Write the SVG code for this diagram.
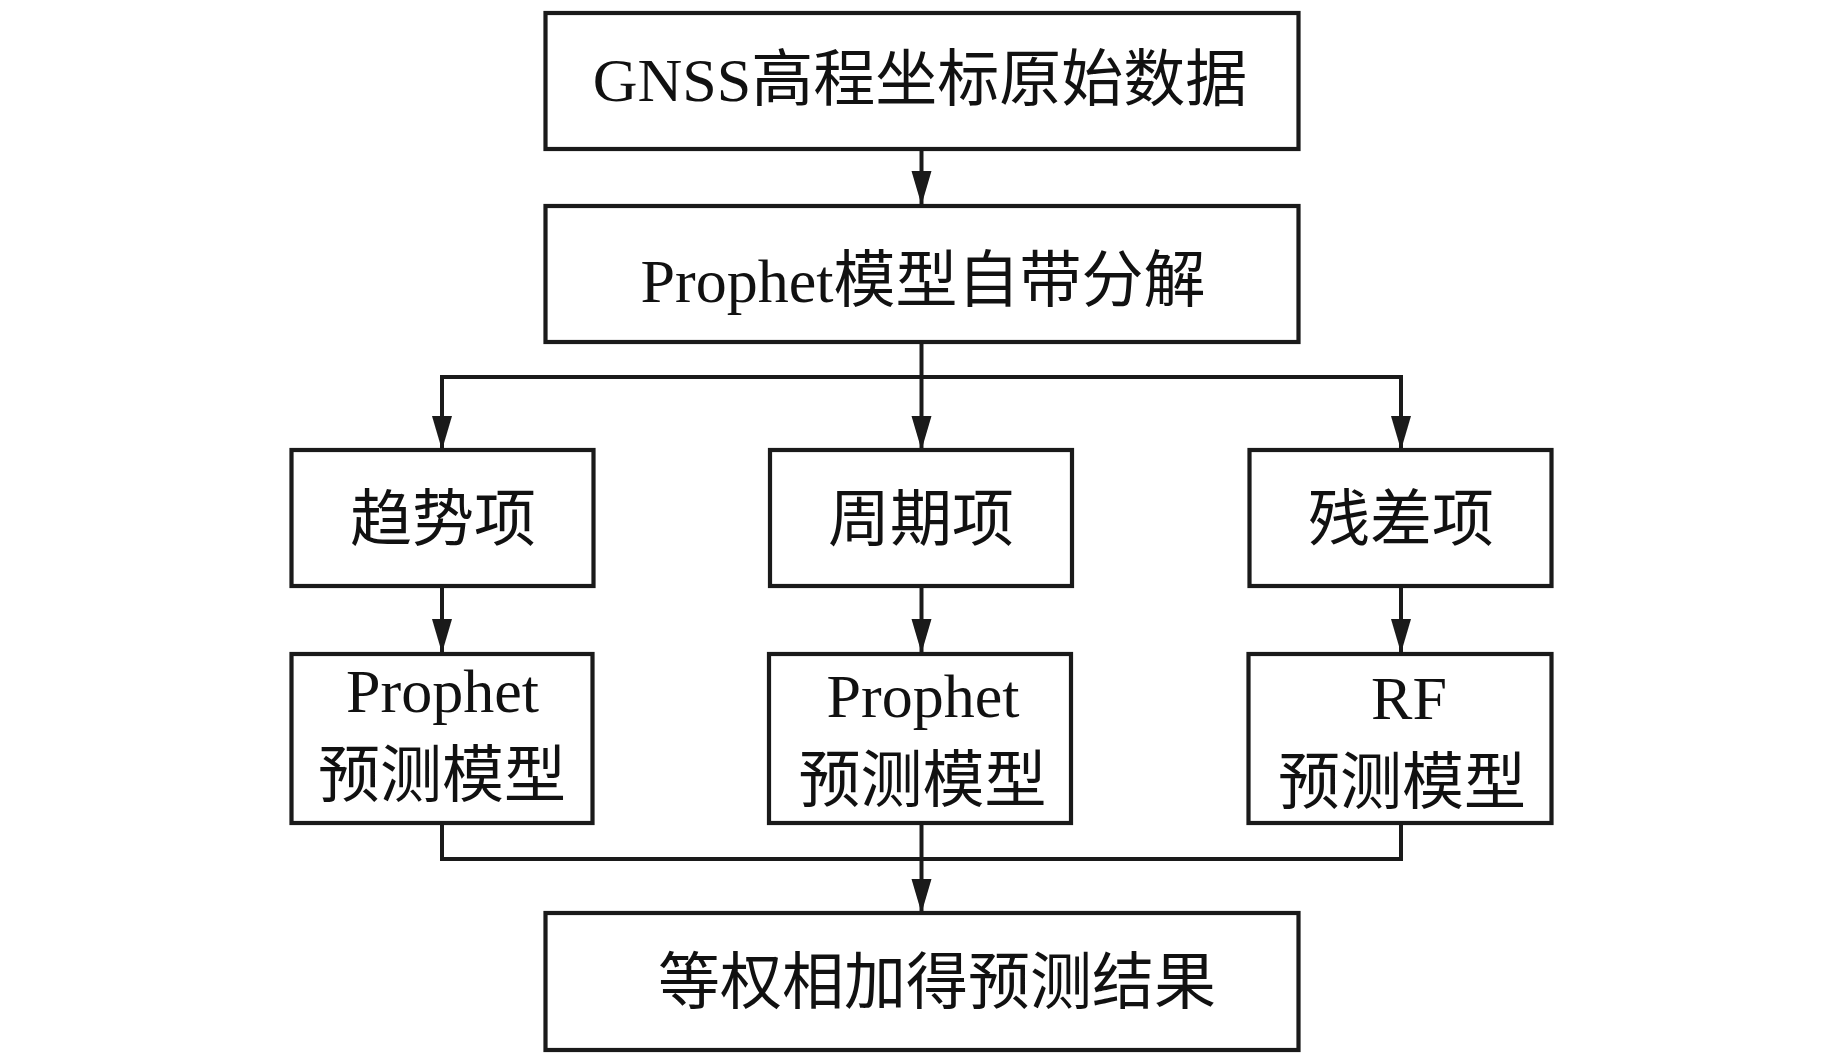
<svg xmlns="http://www.w3.org/2000/svg" width="1843" height="1063" viewBox="0 0 1843 1063">
<style>
.box{fill:#fff;stroke:#1a1a1a;stroke-width:4.2}
.t{font-family:"Liberation Serif","Noto Sans CJK SC",serif;font-size:62px;fill:#111;text-anchor:middle}
.ln{fill:none;stroke:#1a1a1a;stroke-width:4}
</style>
<defs>
<marker id="ah" markerUnits="userSpaceOnUse" markerWidth="36" markerHeight="22" refX="34" refY="10" orient="auto">
<path d="M0,0 L34,10 L0,20 z" fill="#1a1a1a"/>
</marker>
</defs>
<rect width="1843" height="1063" fill="#fff"/>
<g id="connectors">
<line class="ln" x1="921.5" y1="149" x2="921.5" y2="205" marker-end="url(#ah)"/>
<line class="ln" x1="921.5" y1="342" x2="921.5" y2="377"/>
<polyline class="ln" points="442,450 442,377 1401,377 1401,450" marker-end="url(#ah)"/>
<line class="ln" x1="442" y1="377" x2="442" y2="450" marker-end="url(#ah)"/>
<line class="ln" x1="921.5" y1="377" x2="921.5" y2="450" marker-end="url(#ah)"/>
<line class="ln" x1="442" y1="586" x2="442" y2="653" marker-end="url(#ah)"/>
<line class="ln" x1="921.5" y1="586" x2="921.5" y2="653" marker-end="url(#ah)"/>
<line class="ln" x1="1401" y1="586" x2="1401" y2="653" marker-end="url(#ah)"/>
<polyline class="ln" points="442,823 442,859 1401,859 1401,823"/>
<line class="ln" x1="921.5" y1="823" x2="921.5" y2="913" marker-end="url(#ah)"/>
</g>
<g id="n1"><rect class="box" x="545.5" y="13" width="753" height="136"/><text class="t" x="920" y="101">GNSS高程坐标原始数据</text></g>
<g id="n2"><rect class="box" x="545.5" y="206" width="753" height="136"/><text class="t" x="923" y="302">Prophet模型自带分解</text></g>
<g id="n3"><rect class="box" x="291.5" y="450" width="302" height="136"/><text class="t" x="443" y="541">趋势项</text></g>
<g id="n4"><rect class="box" x="770" y="450" width="302" height="136"/><text class="t" x="921" y="541">周期项</text></g>
<g id="n5"><rect class="box" x="1249.5" y="450" width="302" height="136"/><text class="t" x="1401" y="541">残差项</text></g>
<g id="n6"><rect class="box" x="291.5" y="654" width="301" height="169"/><text class="t" x="442.5" y="712">Prophet</text><text class="t" x="442" y="797">预测模型</text></g>
<g id="n7"><rect class="box" x="769" y="654" width="302" height="169"/><text class="t" x="923" y="717">Prophet</text><text class="t" x="922.5" y="802">预测模型</text></g>
<g id="n8"><rect class="box" x="1248.5" y="654" width="303" height="169"/><text class="t" x="1409" y="719">RF</text><text class="t" x="1402" y="804">预测模型</text></g>
<g id="n9"><rect class="box" x="545.5" y="913" width="753" height="137"/><text class="t" x="937" y="1004">等权相加得预测结果</text></g>
</svg>
